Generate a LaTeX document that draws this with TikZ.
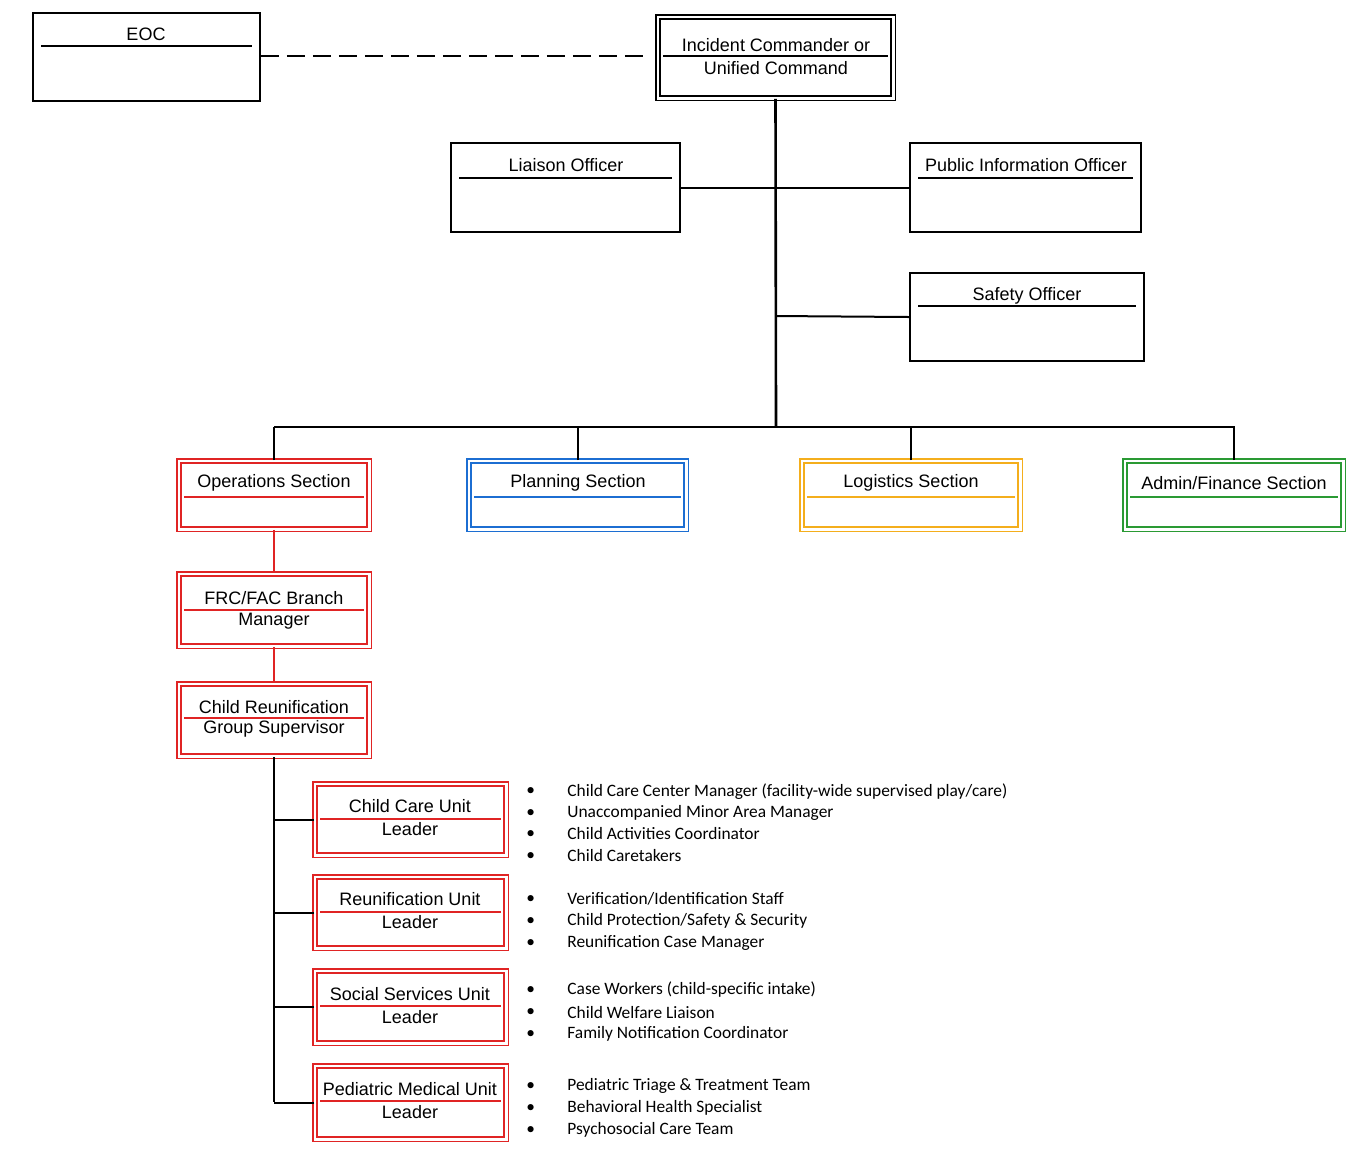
\documentclass[tikz,border=0pt]{standalone}
\usepackage{fontspec}
\setmainfont{Liberation Sans}
\newfontfamily\bulfont{Carlito}
\definecolor{cr}{HTML}{E02424}
\definecolor{cb}{HTML}{1C6ED2}
\definecolor{co}{HTML}{F4AE1C}
\definecolor{cg}{HTML}{2A9A34}
\tikzset{
 sbox/.style={draw=black,line width=0.9pt},
 dbox/.style={draw=#1,double=white,line width=0.75pt,double distance=1.3pt},
 ttl/.style={font=\fontsize{9}{11}\selectfont,inner sep=0pt},
 blt/.style={font=\bulfont\fontsize{8.7}{10}\selectfont,anchor=west,inner sep=0pt},
 cn/.style={line width=1pt}
}
\newcommand\bx[7]{%name x1 y1 x2 y2 style shrink
 \node[#6,minimum width={(#4-#2)*0.5pt-#7},minimum height={(#5-#3)*0.5pt-#7},inner sep=0pt] (#1) at ({(#2+#4)/2},{(#3+#5)/2}) {};}
\newcommand\tl[5]{% x1 x2 ly color
 \draw[#4,line width=0.8pt] ({#1+8},#3) -- ({#2-8},#3);}
\begin{document}
\begin{tikzpicture}[x=0.5pt,y=-0.5pt]
\useasboundingbox (0,0) rectangle (1358,1158);
% top
\bx{eoc}{33}{13}{260}{101}{sbox}{0pt}
\tl{33}{260}{46}{black}{}
\node[ttl] (teoc) at (146,34) {EOC};
\bx{ic}{655}{14}{896}{101}{dbox=black}{2.8pt}
\tl{655}{896}{56}{black}{}
\node[ttl] (tic1) at (776,45) {Incident Commander or};
\node[ttl] (tic2) at (776,68) {Unified Command};
\draw[cn,dash pattern=on 9pt off 4pt] (eoc.east |- 0,56) -- (648,56);
\bx{lo}{451}{143}{680}{232}{sbox}{0pt}
\tl{451}{680}{178}{black}{}
\node[ttl] (tlo) at (566,165) {Liaison Officer};
\bx{pio}{910}{143}{1141}{232}{sbox}{0pt}
\tl{910}{1141}{178}{black}{}
\node[ttl] (tpio) at (1026,165) {Public Information Officer};
\bx{so}{910}{273}{1144}{361}{sbox}{0pt}
\tl{910}{1144}{306}{black}{}
\node[ttl] (tso) at (1027,296) {Safety Officer};
\coordinate (bus) at (776,427);
\draw[cn,line width=1.3pt] (ic.south) -- (bus);
\draw[cn] (lo.east) -- (pio.west);
\draw[cn] (776,316) -- (so.west);
\draw[cn] (274,427) -- (1235,427);
% sections
\bx{ops}{176}{458}{372}{532}{dbox=cr}{2.8pt}
\tl{176}{372}{497}{cr}{}
\node[ttl] (tops) at (274,483) {Operations Section};
\bx{pln}{466}{458}{689}{532}{dbox=cb}{2.8pt}
\tl{466}{689}{497}{cb}{}
\node[ttl] (tpln) at (578,483) {Planning Section};
\bx{log}{799}{458}{1023}{532}{dbox=co}{2.8pt}
\tl{799}{1023}{497}{co}{}
\node[ttl] (tlog) at (911,483) {Logistics Section};
\bx{adm}{1122}{458}{1346}{532}{dbox=cg}{2.8pt}
\tl{1122}{1346}{497}{cg}{}
\node[ttl] (tadm) at (1234,483) {Admin/Finance Section};
\foreach \n in {ops,pln,log,adm}{\draw[cn] (\n.north) -- (\n.north |- bus);}
\bx{frc}{176}{571}{372}{649}{dbox=cr}{2.8pt}
\tl{176}{372}{610}{cr}{}
\node[ttl] (tfrc1) at (274,598) {FRC/FAC Branch};
\node[ttl] (tfrc2) at (274,621) {Manager};
\bx{crg}{176}{681}{372}{759}{dbox=cr}{2.8pt}
\tl{176}{372}{718}{cr}{}
\node[ttl] (tcrg1) at (274,707) {Child Reunification};
\node[ttl] (tcrg2) at (274,729) {Group Supervisor};
\draw[cn,cr] (ops.south) -- (frc.north);
\draw[cn,cr] (frc.south) -- (crg.north);
% units
\bx{ccu}{312}{781}{509}{858}{dbox=cr}{2.8pt}
\tl{312}{509}{819}{cr}{}
\node[ttl] (tccu1) at (410,806) {Child Care Unit};
\node[ttl] (tccu2) at (410,829) {Leader};
\bx{ru}{312}{874}{509}{951}{dbox=cr}{2.8pt}
\tl{312}{509}{912}{cr}{}
\node[ttl] (tru1) at (410,899) {Reunification Unit};
\node[ttl] (tru2) at (410,922) {Leader};
\bx{ssu}{312}{968}{509}{1046}{dbox=cr}{2.8pt}
\tl{312}{509}{1006}{cr}{}
\node[ttl] (tssu1) at (410,994) {Social Services Unit};
\node[ttl] (tssu2) at (410,1017) {Leader};
\bx{pmu}{312}{1063}{509}{1142}{dbox=cr}{2.8pt}
\tl{312}{509}{1101}{cr}{}
\node[ttl] (tpmu1) at (410,1089) {Pediatric Medical Unit};
\node[ttl] (tpmu2) at (410,1112) {Leader};
\coordinate (vb) at (274,1102);
\draw[cn] (crg.south) -- (vb);
\foreach \n in {ccu,ru,ssu,pmu}{\draw[cn] (\n.west) -- (\n.west -| vb);}
% bullets
\newcommand\bl[3]{\node[blt] (b#1) at (567,#2) {#3}; \node[blt] (d#1) at (526,#2) {•};}
\bl{1}{792}{Child Care Center Manager (facility-wide supervised play/care)}
\bl{2}{813}{Unaccompanied Minor Area Manager}
\bl{3}{834}{Child Activities Coordinator}
\bl{4}{856}{Child Caretakers}
\bl{5}{899}{Verification/Identification Staff}
\bl{6}{921}{Child Protection/Safety \& Security}
\bl{7}{943}{Reunification Case Manager}
\bl{8}{990}{Case Workers (child-specific intake)}
\bl{9}{1012}{Child Welfare Liaison}
\bl{10}{1034}{Family Notification Coordinator}
\bl{11}{1086}{Pediatric Triage \& Treatment Team}
\bl{12}{1108}{Behavioral Health Specialist}
\bl{13}{1130}{Psychosocial Care Team}
\end{tikzpicture}
\end{document}
